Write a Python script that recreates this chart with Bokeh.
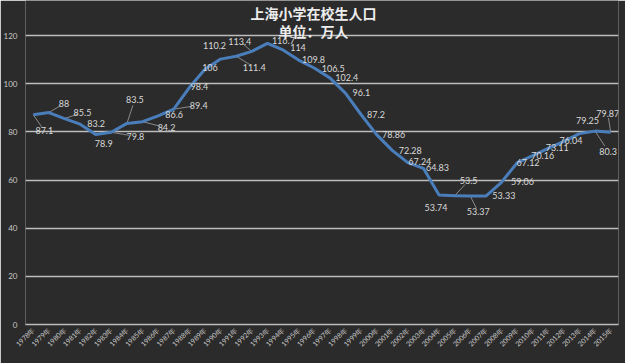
from bokeh.plotting import figure
from bokeh.models import FixedTicker, Label, Range1d, ColumnDataSource
from bokeh.core.properties import value
from bokeh.embed import file_html
from bokeh.resources import INLINE
import math

# ---- data ----
years = ["1978年", "1979年", "1980年", "1981年", "1982年", "1983年", "1984年", "1985年",
         "1986年", "1987年", "1988年", "1989年", "1990年", "1991年", "1992年", "1993年",
         "1994年", "1995年", "1996年", "1997年", "1998年", "1999年", "2000年", "2001年",
         "2002年", "2003年", "2004年", "2005年", "2006年", "2007年", "2008年", "2009年",
         "2010年", "2011年", "2012年", "2013年", "2014年", "2015年"]
students = [87.1, 88, 85.5, 83.2, 78.9, 79.8, 83.5, 84.2, 86.6, 89.4, 98.4, 106, 110.2,
            111.4, 113.4, 116.7, 114, 109.8, 106.5, 102.4, 96.1, 87.2, 78.86, 72.28, 67.24,
            64.83, 53.74, 53.5, 53.37, 53.33, 59.06, 67.12, 70.16, 73.11, 76.04, 79.25,
            80.3, 79.87]
y_ticks = [0, 20, 40, 60, 80, 100, 120]
title_main = "上海小学在校生人口"
title_sub = "单位：万人"

# ---- label placement (screen px offsets from each point) ----
lab_dx = [11, 15, 18, 16, 8, 24, 8, 24, 16, 25, 10, 5, -6, 18, -12, 16, 15, 15, 19, 17,
          16, 15, 17, 18, 12, 14, -3, 14, 8, 18, 21, 11, 10, 9, 7, 8, 13, -3]
lab_dy = [16, -9, -6, -1, 9, 4, -24, 6, -1, -4, -1, -2, -14, 11, -10, -3, -2, -1, 0, 0,
          -1, 0, 0, 0, -1, -1, 12, -15, 16, -1, -1, 0, 0, -1, -1, -13, 20, -19]
leader = [1, 1, 1, 0, 0, 1, 1, 1, 0, 1, 0, 0, 0, 1, 1, 0, 0, 0, 0, 0,
          0, 0, 0, 0, 0, 0, 0, 1, 1, 0, 0, 0, 0, 0, 0, 0, 1, 1]

W, H = 625, 363
BL, BR, BT, BB = 23, 7, 0, 39
TOP_GAP = 35          # px between frame top and the 120 gridline
frame_w = W - BL - BR
frame_h = H - BT - BB
y_end = 120 / (1 - TOP_GAP / frame_h)
n = len(years)
xs = [i + 0.5 for i in range(n)]
labels = [f"{v:g}" for v in students]

BG = "#2b2b2b"
p = figure(width=W, height=H, output_backend="svg", toolbar_location=None,
           x_range=Range1d(0, n), y_range=Range1d(0, y_end),
           min_border_left=BL, min_border_right=BR, min_border_top=BT,
           min_border_bottom=BB, background_fill_color=BG, border_fill_color=BG,
           outline_line_color=None)

# titles (screen units, relative to the frame)
for txt, sy in [(title_main, frame_h - 12), (title_sub, frame_h - 30)]:
    p.add_layout(Label(x=288, y=sy, x_units="screen", y_units="screen", text=txt,
                       text_align="center", text_baseline="middle",
                       text_font="Noto Sans CJK SC", text_font_size="14px",
                       text_font_style="bold", text_color="#ededed"))

# grid
p.xgrid.grid_line_color = None
p.ygrid.ticker = FixedTicker(ticks=y_ticks)
p.ygrid.grid_line_color = "#bdbdbd"
p.ygrid.grid_line_width = 1.5

# axes
p.yaxis.ticker = FixedTicker(ticks=y_ticks)
p.yaxis.axis_line_color = None
p.yaxis.major_tick_line_color = None
p.yaxis.major_tick_out = 0
p.yaxis.minor_tick_line_color = None
p.yaxis.major_label_text_color = "#c8c8c8"
p.yaxis.major_label_text_font = "Lato"
p.yaxis.major_label_text_font_size = "8px"
p.yaxis.major_label_standoff = 8

p.xaxis.ticker = FixedTicker(ticks=xs)
p.xaxis.major_label_overrides = {x: y for x, y in zip(xs, years)}
p.xaxis.major_label_orientation = math.pi / 4
p.xaxis.axis_line_color = "#bdbdbd"
p.xaxis.axis_line_width = 1.5
p.xaxis.major_tick_line_color = None
p.xaxis.major_tick_out = 0
p.xaxis.minor_tick_line_color = None
p.xaxis.major_label_text_color = "#c8c8c8"
p.xaxis.major_label_text_font = "Lato"
p.xaxis.major_label_text_font_size = "7px"
p.xaxis.major_label_standoff = 4

# leader lines (converted from px offsets)
px_x = frame_w / n
px_y = frame_h / y_end
lx0, ly0, lx1, ly1 = [], [], [], []
for i in range(n):
    if leader[i]:
        lx0.append(xs[i])
        ly0.append(students[i])
        lx1.append(xs[i] + lab_dx[i] * 0.75 / px_x)
        ly1.append(students[i] - lab_dy[i] * 0.75 / px_y)
p.segment(x0=lx0, y0=ly0, x1=lx1, y1=ly1, line_color="#8a8a8a", line_width=1)

# main line
p.line(xs, students, line_color="#4a7ebb", line_width=3, line_join="round")

# data labels
src = ColumnDataSource(dict(x=xs, y=students, t=labels, dx=lab_dx, dy=lab_dy))
p.text(x="x", y="y", text="t", x_offset="dx", y_offset="dy", source=src,
       text_align="center", text_baseline="middle", text_color="#d9d9d9",
       text_font=value("Lato"), text_font_size="9px")

open("out.html", "w").write(file_html(p, INLINE))
